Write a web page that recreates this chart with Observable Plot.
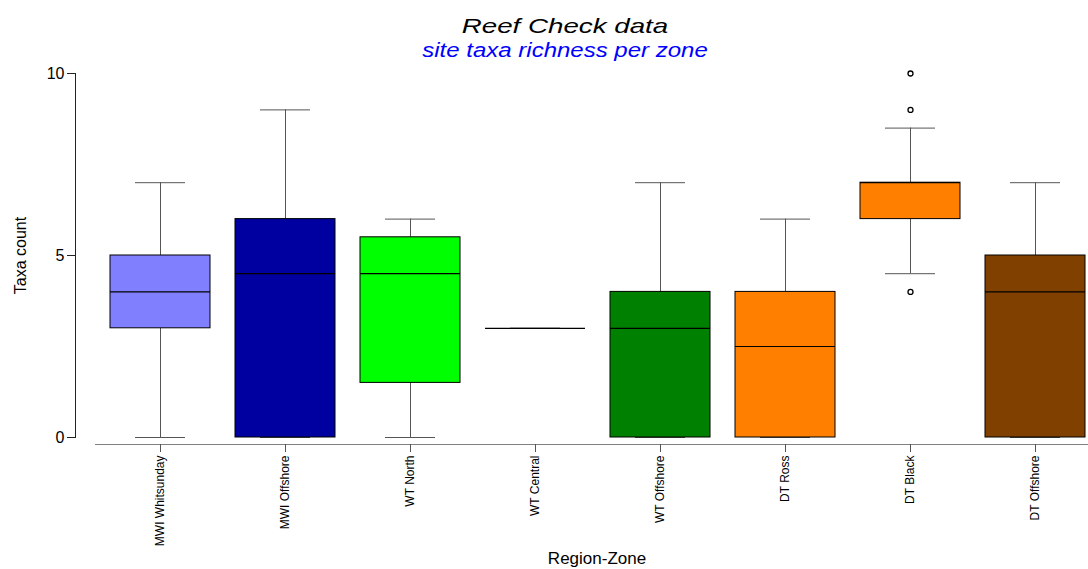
<!DOCTYPE html>
<html><head><meta charset="utf-8">
<script src="https://cdn.jsdelivr.net/npm/d3@7"></script>
<script src="https://cdn.jsdelivr.net/npm/@observablehq/plot@0.6"></script>
<style>
body{margin:0;background:#fff;font-family:"Liberation Sans",Arial,sans-serif}
#wrap{width:1088px}
#head{position:relative;height:62px;width:1088px}
#head .t{position:absolute;left:565px;white-space:nowrap;font-style:italic;line-height:1}
</style></head><body>
<div id="wrap">
<div id="head">
<div class="t" style="top:15px;font-size:21px;color:#000;transform:translateX(-50%) scaleX(1.32)">Reef Check data</div>
<div class="t" style="top:40px;font-size:20px;color:#0000ff;transform:translateX(-50%) scaleX(1.2)">site taxa richness per zone</div>
</div>
<div id="chart"></div>
</div>
<script>
const zones = ["MWI Whitsunday", "MWI Offshore", "WT North", "WT Central", "WT Offshore", "DT Ross", "DT Black", "DT Offshore"];
const lowWhisker = [0, 0, 0, 3, 0, 0, 4.5, 0];
const q1 = [3, 0, 1.5, 3, 0, 0, 6, 0];
const median = [4, 4.5, 4.5, 3, 3, 2.5, 7, 4];
const q3 = [5, 6, 5.5, 3, 4, 4, 7, 5];
const highWhisker = [7, 9, 6, 3, 7, 6, 8.5, 7];
const boxColors = ["#8080FF", "#0000A0", "#00FF00", "#FFFFFF", "#008000", "#FF8000", "#FF8000", "#804000"];
const outlierZone = ["DT Black", "DT Black", "DT Black"];
const outlierValue = [10, 9, 4];
const yTicks = [0, 5, 10];

const rows = zones.map((z, i) => ({zone: z, low: lowWhisker[i], q1: q1[i], med: median[i], q3: q3[i], high: highWhisker[i], color: boxColors[i]}));
const outs = outlierZone.map((z, i) => ({zone: z, value: outlierValue[i]}));

const plot = Plot.plot({
  width: 1088, height: 507,
  marginLeft: 95, marginRight: 0, marginTop: 11, marginBottom: 132,
  style: {fontFamily: '"Liberation Sans", Arial, sans-serif', fontSize: "12px", color: "#000", background: "#fff"},
  x: {type: "band", domain: zones, paddingInner: 0.2, paddingOuter: 0.064, align: 0.8125},
  y: {domain: [0, 10]},
  color: {type: "identity"},
  marks: [
    Plot.ruleY([0], {dy: 7, stroke: "#808080"}),
    Plot.frame({anchor: "left", dx: -20, stroke: "#222"}),
    Plot.axisX({tickSize: 8, tickPadding: 3, tickRotate: -90, dy: 7, fontSize: 12, label: null, stroke: "#555"}),
    Plot.axisY({ticks: yTicks, tickSize: 8, tickPadding: 3, dx: -20, fontSize: 16, label: null, tickFormat: d => String(d), stroke: "#222"}),
    Plot.ruleX(rows, {x: "zone", y1: "q3", y2: "high", stroke: "#555"}),
    Plot.ruleX(rows, {x: "zone", y1: "low", y2: "q1", stroke: "#555"}),
    Plot.tickY(rows, {x: "zone", y: "high", stroke: "#555", insetLeft: 25, insetRight: 25}),
    Plot.tickY(rows, {x: "zone", y: "low", stroke: "#555", insetLeft: 25, insetRight: 25}),
    Plot.barY(rows, {x: "zone", y1: "q1", y2: "q3", fill: "color", stroke: "black", strokeWidth: 1}),
    Plot.tickY(rows, {x: "zone", y: "med", stroke: "black", strokeWidth: 1.2}),
    Plot.dot(outs, {x: "zone", y: "value", r: 2.5, stroke: "black", fill: "none", strokeWidth: 1.3}),
    Plot.text(["Region-Zone"], {text: d => d, frameAnchor: "bottom", textAnchor: "middle", lineAnchor: "middle", dy: 121, dx: 5, fontSize: 17}),
    Plot.text(["Taxa count"], {text: d => d, frameAnchor: "left", textAnchor: "middle", lineAnchor: "middle", rotate: -90, dx: -75, fontSize: 16})
  ]
});
document.getElementById("chart").appendChild(plot);
</script>
</body></html>
